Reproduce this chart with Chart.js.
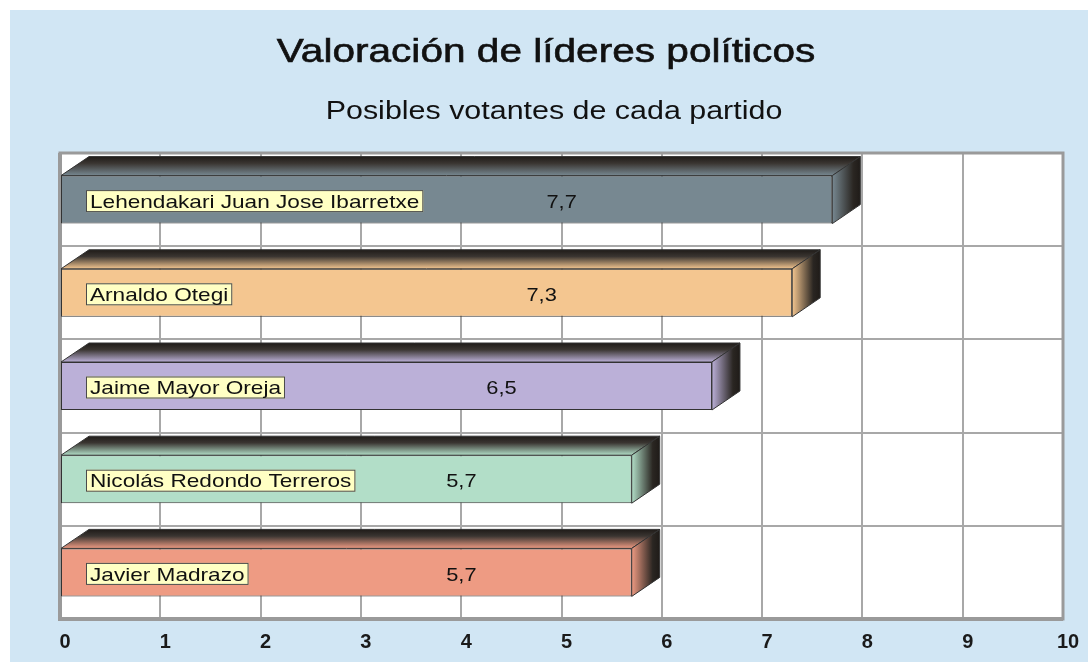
<!DOCTYPE html>
<html>
<head>
<meta charset="utf-8">
<script src="https://cdn.jsdelivr.net/npm/chart.js@4.4.1/dist/chart.umd.min.js"></script>
<style>
  body { margin: 0; background: #ffffff; }
  #wrap { position: absolute; left: 10px; top: 10px; width: 1078px; height: 652px; background: #d1e6f4; }
</style>
</head>
<body>
<div id="wrap"><canvas id="lideres" width="1078" height="652"></canvas></div>
<script>
// datos
const leaders = ['Lehendakari Juan Jose Ibarretxe', 'Arnaldo Otegi', 'Jaime Mayor Oreja', 'Nicolás Redondo Terreros', 'Javier Madrazo'];
const ratings = [7.7, 7.3, 6.5, 5.7, 5.7];
const barColors = ['#778891', '#f4c690', '#bbb0d8', '#b2dec8', '#ee9b83'];
const chartTitle = 'Valoración de líderes políticos';
const chartSubtitle = 'Posibles votantes de cada partido';

const FONT = "'Liberation Sans', Arial, sans-serif";
const DX = 28, DY = 19; // profundidad 3D

function stretchText(ctx, text, x, y, sx) {
    ctx.save();
    ctx.translate(x, y);
    ctx.scale(sx, 1);
    ctx.fillText(text, 0, 0);
    ctx.restore();
}

// marco y titulos
const framePlugin = {
    id: 'frame',
    beforeDraw(chart) {
        const ctx = chart.ctx;
        const a = chart.chartArea;
        ctx.save();
        ctx.fillStyle = '#ffffff';
        ctx.fillRect(a.left, a.top, a.right - a.left, a.bottom - a.top);
        ctx.restore();
    },
    beforeDatasetsDraw(chart) {
        const ctx = chart.ctx;
        const a = chart.chartArea;
        ctx.save();
        ctx.strokeStyle = '#9a9a9a';
        ctx.lineWidth = 3;
        ctx.strokeRect(a.left, a.top, a.right - a.left, a.bottom - a.top);
        ctx.lineWidth = 4;
        ctx.beginPath();
        ctx.moveTo(a.left, a.top);
        ctx.lineTo(a.left, a.bottom);
        ctx.lineTo(a.right, a.bottom);
        ctx.stroke();
        ctx.restore();
    },
    afterDraw(chart) {
        const ctx = chart.ctx;
        ctx.save();
        ctx.fillStyle = '#111111';
        ctx.textAlign = 'center';
        ctx.textBaseline = 'alphabetic';
        ctx.font = '33px ' + FONT;
        stretchText(ctx, chartTitle, 536, 52, 1.23);
        ctx.lineWidth = 0.6;
        ctx.strokeStyle = '#111111';
        ctx.save();
        ctx.translate(536, 52);
        ctx.scale(1.23, 1);
        ctx.strokeText(chartTitle, 0, 0);
        ctx.restore();
        ctx.font = '26px ' + FONT;
        stretchText(ctx, chartSubtitle, 544, 109, 1.17);
        ctx.restore();
    }
};

// caras 3D, etiquetas y valores
const bars3dPlugin = {
    id: 'bars3d',
    afterDatasetsDraw(chart) {
        const ctx = chart.ctx;
        const meta = chart.getDatasetMeta(0);
        meta.data.forEach((bar, i) => {
            const p = bar.getProps(['x', 'y', 'base', 'height'], true);
            const top = p.y - p.height / 2;
            const bottom = p.y + p.height / 2;
            const color = barColors[i];
            ctx.save();
            ctx.strokeStyle = '#333333';
            ctx.lineWidth = 1;

            // cara superior
            let g = ctx.createLinearGradient(0, top - DY, 0, top);
            g.addColorStop(0, '#1f1b18');
            g.addColorStop(0.35, '#3a3531');
            g.addColorStop(1, color);
            ctx.fillStyle = g;
            ctx.beginPath();
            ctx.moveTo(p.base, top);
            ctx.lineTo(p.base + DX, top - DY);
            ctx.lineTo(p.x + DX, top - DY);
            ctx.lineTo(p.x, top);
            ctx.closePath();
            ctx.fill();
            ctx.stroke();

            // cara lateral
            g = ctx.createLinearGradient(p.x, 0, p.x + DX, 0);
            g.addColorStop(0, color);
            g.addColorStop(0.75, '#2a2622');
            g.addColorStop(1, '#1f1b18');
            ctx.fillStyle = g;
            ctx.beginPath();
            ctx.moveTo(p.x, top);
            ctx.lineTo(p.x + DX, top - DY);
            ctx.lineTo(p.x + DX, bottom - DY);
            ctx.lineTo(p.x, bottom);
            ctx.closePath();
            ctx.fill();
            ctx.stroke();

            // etiqueta con caja amarilla
            const sx = 1.19;
            ctx.font = '19px ' + FONT;
            const w = ctx.measureText(leaders[i]).width * sx;
            const bx = p.base + 25;
            const by = p.y + 1.5 - 11;
            ctx.fillStyle = '#ffffc4';
            ctx.fillRect(bx, by, w + 8, 22);
            ctx.strokeStyle = '#4a4a4a';
            ctx.strokeRect(bx + 0.5, by + 0.5, w + 7, 21);
            ctx.fillStyle = '#111111';
            ctx.textAlign = 'left';
            ctx.textBaseline = 'middle';
            stretchText(ctx, leaders[i], bx + 4, p.y + 3, sx);

            // valor
            ctx.textAlign = 'center';
            const label = ratings[i].toFixed(1).replace('.', ',');
            stretchText(ctx, label, (p.base + p.x) / 2 + 115, p.y + 3, 1.15);
            ctx.restore();
        });
    }
};

new Chart(document.getElementById('lideres'), {
    type: 'bar',
    data: {
        labels: leaders,
        datasets: [{
            data: ratings,
            backgroundColor: barColors,
            borderColor: '#333333',
            borderWidth: 1,
            borderSkipped: false,
            categoryPercentage: 1,
            barPercentage: 0.515
        }]
    },
    options: {
        indexAxis: 'y',
        responsive: false,
        animation: false,
        layout: { padding: { left: 50, right: 25, top: 143, bottom: 0 } },
        scales: {
            x: {
                min: 0,
                max: 10,
                ticks: {
                    stepSize: 1,
                    color: '#1a1a1a',
                    font: { family: FONT, size: 20, weight: 'bold' },
                    padding: 11,
                    labelOffset: 5
                },
                grid: { color: '#a8a8a8', lineWidth: 2, drawTicks: false },
                border: { display: false },
                afterFit(scale) { scale.height = 43; }
            },
            y: {
                ticks: { display: false },
                grid: { color: '#a8a8a8', lineWidth: 2, drawTicks: false },
                border: { display: false },
                afterFit(scale) { scale.width = 0; }
            }
        },
        plugins: {
            legend: { display: false },
            tooltip: { enabled: false }
        }
    },
    plugins: [framePlugin, bars3dPlugin]
});
</script>
</body>
</html>
